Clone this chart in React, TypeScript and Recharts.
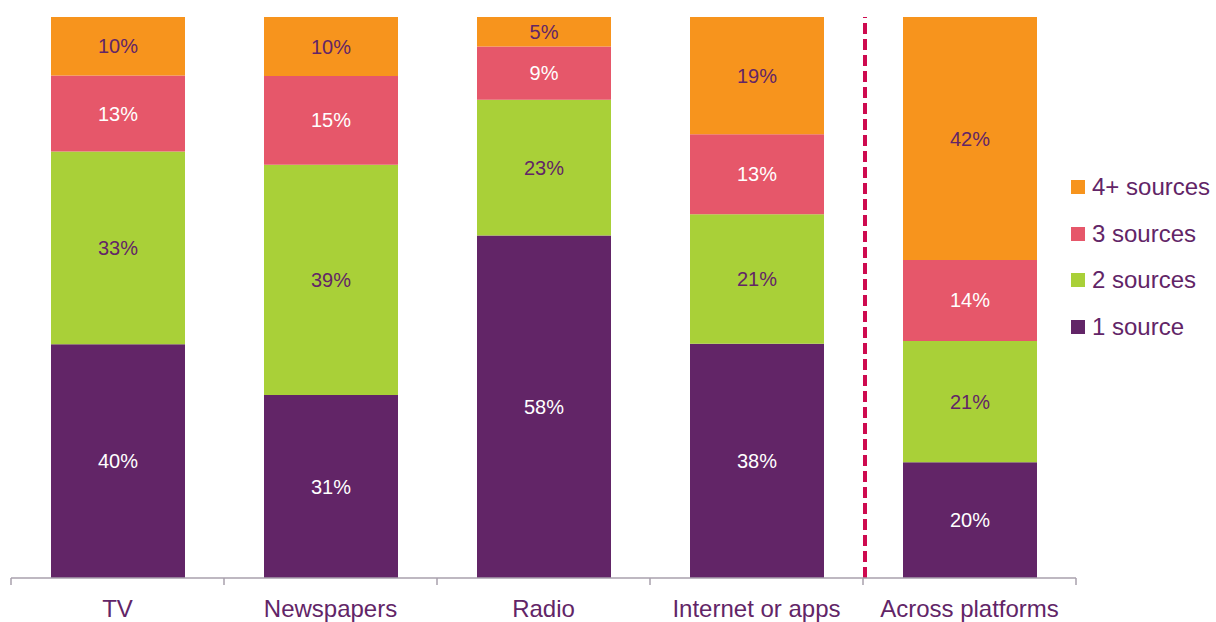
import { BarChart, Bar, XAxis, YAxis, LabelList, ReferenceLine } from "recharts";

const categories = ["TV", "Newspapers", "Radio", "Internet or apps", "Across platforms"];
const oneSource = [40, 31, 58, 38, 20];
const twoSources = [33, 39, 23, 21, 21];
const threeSources = [13, 15, 9, 13, 14];
const fourPlusSources = [10, 10, 5, 19, 42];

const SERIES = [
  { key: "one", name: "1 source", color: "#622567", label: "#ffffff" },
  { key: "two", name: "2 sources", color: "#A9D038", label: "#622567" },
  { key: "three", name: "3 sources", color: "#E6576A", label: "#ffffff" },
  { key: "four", name: "4+ sources", color: "#F7941D", label: "#622567" },
];

const data = categories.map((name, i) => ({
  name,
  one: oneSource[i],
  two: twoSources[i],
  three: threeSources[i],
  four: fourPlusSources[i],
}));

const W = 1216;
const H = 622;
const MARGIN = { top: 17, right: 140, bottom: 0, left: 11 };
const BAND = (W - MARGIN.left - MARGIN.right) / categories.length;
const FONT = "'Liberation Sans', Arial, sans-serif";
const PURPLE = "#622567";
const AXIS = "#A9A0AC";

// category label plus the boundary tick marks between bands
function Tick(props: any) {
  const { x, y, payload, index } = props;
  const left = x - BAND / 2;
  const right = x + BAND / 2;
  const top = y - 8;
  return (
    <g>
      <line x1={left} x2={left} y1={top} y2={top + 7} stroke={AXIS} strokeWidth={1.5} />
      {index === categories.length - 1 && (
        <line x1={right} x2={right} y1={top} y2={top + 7} stroke={AXIS} strokeWidth={1.5} />
      )}
      <text x={x} y={top + 39} textAnchor="middle" fill={PURPLE} fontSize={24} fontFamily={FONT}>
        {payload.value}
      </text>
    </g>
  );
}

// legend sits outside the chart so it doesn't eat plot space
function LegendBox() {
  return (
    <div style={{ position: "absolute", left: 1071, top: 164, fontFamily: FONT }}>
      {SERIES.slice().reverse().map((s) => (
        <div key={s.key} style={{ display: "flex", alignItems: "center", height: 46.5 }}>
          <span style={{ width: 14, height: 14, background: s.color, display: "inline-block", marginRight: 7 }} />
          <span style={{ color: PURPLE, fontSize: 24, lineHeight: "24px" }}>{s.name}</span>
        </div>
      ))}
    </div>
  );
}

export default function App() {
  return (
    <div style={{ position: "absolute", left: 0, top: 0, width: W, height: H, background: "#fff" }}>
      <BarChart width={W} height={H} data={data} margin={MARGIN} stackOffset="expand" barSize={134}>
        <XAxis
          dataKey="name"
          height={44}
          axisLine={{ stroke: AXIS, strokeWidth: 1.5 }}
          tickLine={false}
          tick={<Tick />}
          interval={0}
        />
        <YAxis hide domain={[0, 1]} />
        {SERIES.map((s) => (
          <Bar key={s.key} dataKey={s.key} name={s.name} stackId="a" fill={s.color} isAnimationActive={false}>
            <LabelList
              dataKey={s.key}
              position="center"
              fill={s.label}
              fontSize={20}
              fontFamily={FONT}
              formatter={(v: any) => `${v}%`}
            />
          </Bar>
        ))}
        <ReferenceLine
          x="Across platforms"
          position="start"
          stroke="#CE0A4F"
          strokeWidth={4}
          strokeDasharray="11 5"
          transform="translate(2,0)"
        />
      </BarChart>
      <LegendBox />
    </div>
  );
}
